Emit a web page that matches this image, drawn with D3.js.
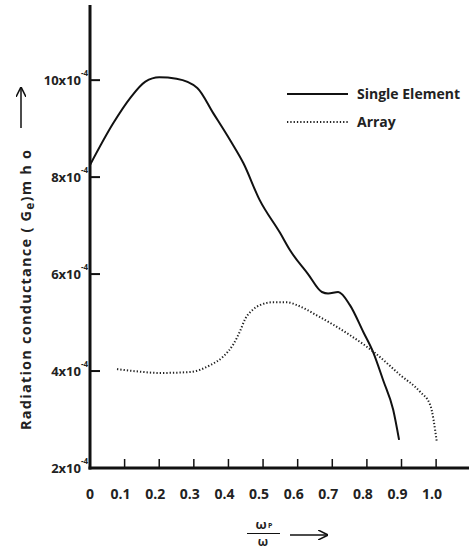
<!DOCTYPE html>
<html><head><meta charset="utf-8">
<script src="https://cdn.jsdelivr.net/npm/d3@7"></script>
<style>
body{margin:0;background:#fff;}
text{font-family:"Open Sans",sans-serif;font-weight:700;fill:#222;}
</style></head>
<body>
<svg id="c" width="469" height="550"></svg>
<script>
// Data (conductance in units of 1e-4 mho)
const singleX = [0, 0.067, 0.116, 0.16, 0.2, 0.25, 0.31, 0.356, 0.405, 0.443, 0.49, 0.549, 0.578, 0.63, 0.67, 0.688, 0.717, 0.751, 0.79, 0.818, 0.847, 0.876, 0.893];
const singleY = [8.25, 9.11, 9.63, 9.97, 10.06, 10.03, 9.84, 9.32, 8.76, 8.29, 7.53, 6.85, 6.49, 6.0, 5.63, 5.6, 5.63, 5.36, 4.80, 4.39, 3.81, 3.2, 2.58];
const arrayX = [0.078, 0.14, 0.2, 0.289, 0.347, 0.385, 0.414, 0.434, 0.448, 0.468, 0.491, 0.529, 0.569, 0.598, 0.655, 0.751, 0.824, 0.896, 0.954, 0.983, 1.002];
const arrayY = [4.04, 3.99, 3.96, 3.98, 4.12, 4.3, 4.55, 4.83, 5.07, 5.25, 5.36, 5.42, 5.42, 5.36, 5.15, 4.74, 4.37, 3.92, 3.57, 3.30, 2.54];
const xTicks = [0, 0.1, 0.2, 0.3, 0.4, 0.5, 0.6, 0.7, 0.8, 0.9, 1.0];
const xTickLabels = ["0", "0.1", "0.2", "0.3", "0.4", "0.5", "0.6", "0.7", "0.8", "0.9", "1.0"];
const yTicks = [2, 4, 6, 8, 10];
const yTickLabels = ["2x10", "4x10", "6x10", "8x10", "10x10"];
const legendLabels = ["Single Element", "Array"];

const svg = d3.select("#c");
const x = d3.scaleLinear().domain([0, 1.095]).range([90, 469]);
const y = d3.scaleLinear().domain([2, 11.55]).range([468, 5]);

// axes
svg.append("line").attr("x1", x(0)).attr("x2", x(0)).attr("y1", y(11.55)).attr("y2", y(2) + 1.5)
  .attr("stroke", "#111").attr("stroke-width", 3);
svg.append("line").attr("x1", x(0) - 1.5).attr("x2", 469).attr("y1", y(2)).attr("y2", y(2))
  .attr("stroke", "#111").attr("stroke-width", 3);

// x ticks
xTicks.forEach((t, i) => {
  if (t > 0) {
    svg.append("line").attr("x1", x(t)).attr("x2", x(t)).attr("y1", y(2)).attr("y2", y(2) - 9)
      .attr("stroke", "#111").attr("stroke-width", 1.5);
  }
  svg.append("text").attr("x", x(t) - (t > 0 ? 4 : 0)).attr("y", 499)
    .attr("text-anchor", "middle").attr("font-size", 14).text(xTickLabels[i]);
});

// y ticks
yTicks.forEach((t, i) => {
  if (t > 2) {
    svg.append("line").attr("x1", x(0)).attr("x2", x(0) + 10).attr("y1", y(t)).attr("y2", y(t))
      .attr("stroke", "#111").attr("stroke-width", 2);
  }
  svg.append("text").attr("x", 81).attr("y", y(t) + 5).attr("text-anchor", "end").attr("font-size", 13)
    .text(yTickLabels[i]);
  svg.append("text").attr("x", 81).attr("y", y(t) - 4).attr("font-size", 8).text("-4");
});

// curves
const line = d3.line().x(d => x(d[0])).y(d => y(d[1])).curve(d3.curveMonotoneX);
svg.append("path").datum(singleX.map((v, i) => [v, singleY[i]])).attr("d", line)
  .attr("fill", "none").attr("stroke", "#111").attr("stroke-width", 2);
svg.append("path").datum(arrayX.map((v, i) => [v, arrayY[i]])).attr("d", line)
  .attr("fill", "none").attr("stroke", "#222").attr("stroke-width", 2).attr("stroke-dasharray", "1.3,2");

// legend
svg.append("line").attr("x1", 287).attr("x2", 348).attr("y1", 94).attr("y2", 94)
  .attr("stroke", "#111").attr("stroke-width", 2);
svg.append("text").attr("x", 357).attr("y", 99).attr("font-size", 14).text(legendLabels[0]);
svg.append("line").attr("x1", 287).attr("x2", 348).attr("y1", 122).attr("y2", 122)
  .attr("stroke", "#222").attr("stroke-width", 2).attr("stroke-dasharray", "1.3,2");
svg.append("text").attr("x", 357).attr("y", 127).attr("font-size", 14).text(legendLabels[1]);

// y label
const yl = svg.append("text").attr("transform", "translate(31,290) rotate(-90)")
  .attr("text-anchor", "middle").attr("font-size", 14.5)
  .attr("textLength", 280).attr("lengthAdjust", "spacing");
yl.append("tspan").text("Radiation conductance ( G");
yl.append("tspan").attr("dy", 3).attr("font-size", 12).text("e");
yl.append("tspan").attr("dy", -3).text(")m h o");
// y arrow
const defs = svg.append("defs");
defs.append("marker").attr("id", "ah").attr("viewBox", "0 0 10 10").attr("refX", 9).attr("refY", 5)
  .attr("markerWidth", 7).attr("markerHeight", 7).attr("orient", "auto")
  .append("path").attr("d", "M0,0 L10,5 L0,10").attr("fill", "none").attr("stroke", "#111").attr("stroke-width", 1.5);
svg.append("line").attr("x1", 21).attr("x2", 21).attr("y1", 128).attr("y2", 88)
  .attr("stroke", "#111").attr("stroke-width", 1.5).attr("marker-end", "url(#ah)");

// x label fraction
const fx = 263;
svg.append("text").attr("x", fx - 2).attr("y", 529).attr("text-anchor", "middle").attr("font-size", 13).text("ω");
svg.append("text").attr("x", fx + 5).attr("y", 528).attr("font-size", 7).text("P");
svg.append("line").attr("x1", 247).attr("x2", 280).attr("y1", 533.5).attr("y2", 533.5)
  .attr("stroke", "#111").attr("stroke-width", 1.2);
svg.append("text").attr("x", fx).attr("y", 546).attr("text-anchor", "middle").attr("font-size", 12).text("ω");
svg.append("line").attr("x1", 290).attr("x2", 327).attr("y1", 535).attr("y2", 535)
  .attr("stroke", "#111").attr("stroke-width", 1.5).attr("marker-end", "url(#ah)");
</script>
</body></html>
